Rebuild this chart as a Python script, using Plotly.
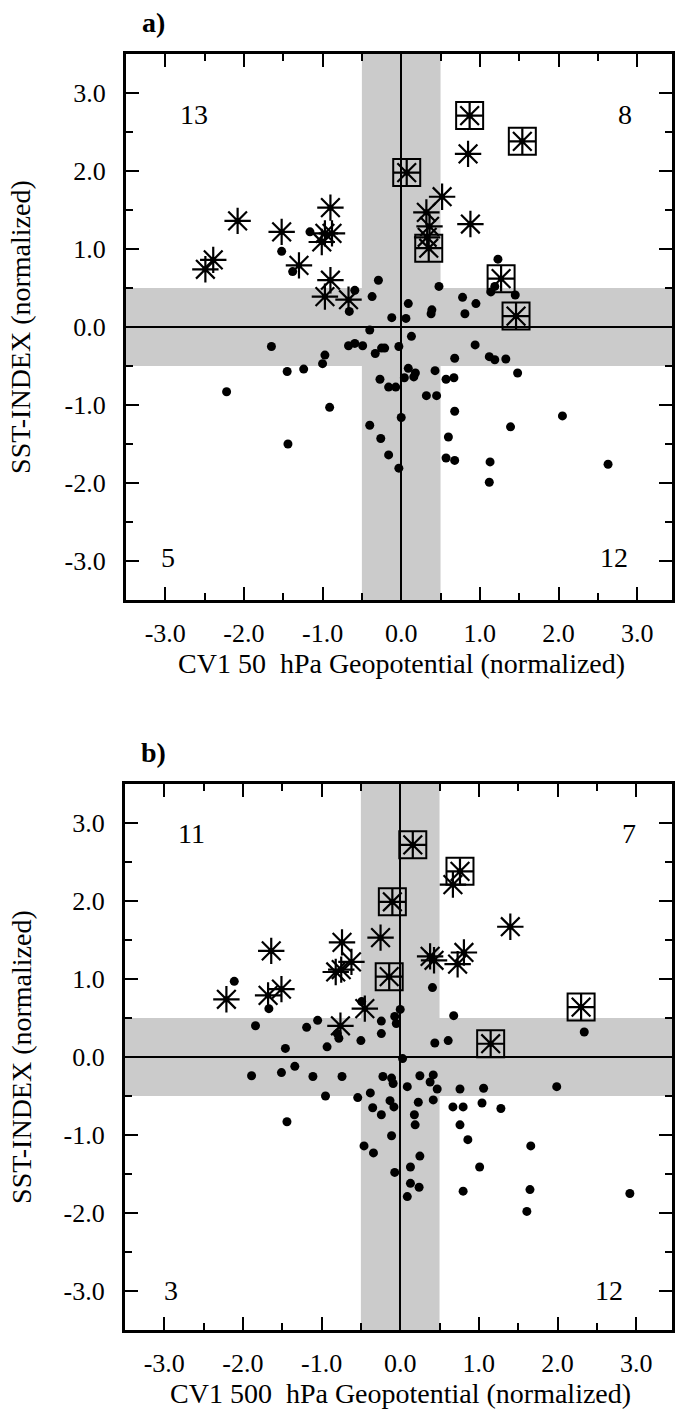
import plotly.graph_objects as go

# ---------------- data ----------------
# Panel a) CV1 50 hPa geopotential vs SST-index
a_dot_x = [-1.16, -1.52, -1.38, -0.59, -0.66, -0.29, -0.37, -0.12, -0.40, -1.65, -0.67, -0.59, -0.49,
           -0.97, -1.00, -0.33, -0.25, -0.21, -0.03, 1.23, 1.19, 1.14, 1.45, 0.48, 0.78, 0.95, 0.81,
           0.39, 0.38, 0.09, 0.06, 0.13, 0.94, 0.68, 1.12, 1.19, 1.33, 1.48, 0.09, 0.18, 0.16, 0.43,
           0.04, -0.27, -0.16, -0.07, 0.57, 0.67, 0.32, 0.45, 0.68, 0.00, 0.60, -0.26, -0.16, -0.03,
           0.57, 0.68, 1.39, 2.05, 1.13, 1.12, 2.63, -1.45, -1.24, -2.22, -0.91, -1.44, -0.40]
a_dot_y = [1.22, 0.97, 0.71, 0.47, 0.20, 0.60, 0.39, 0.12, -0.04, -0.25, -0.24, -0.21, -0.24,
           -0.36, -0.47, -0.34, -0.27, -0.27, -0.25, 0.87, 0.52, 0.45, 0.41, 0.52, 0.38, 0.30, 0.17,
           0.22, 0.17, 0.30, 0.11, -0.12, -0.23, -0.40, -0.38, -0.42, -0.41, -0.59, -0.53, -0.59, -0.64, -0.56,
           -0.65, -0.67, -0.77, -0.77, -0.67, -0.65, -0.88, -0.88, -1.08, -1.16, -1.41, -1.43, -1.64, -1.81,
           -1.68, -1.71, -1.28, -1.14, -1.73, -1.99, -1.76, -0.57, -0.54, -0.83, -1.03, -1.50, -1.26]
a_star_x = [-0.90, -2.08, -1.52, -0.97, -0.88, -1.01, -2.39, -2.49, -1.30, -0.90, -0.97, -0.67,
            0.85, 0.52, 0.32, 0.36, 0.88, 0.33]
a_star_y = [1.53, 1.36, 1.22, 1.20, 1.20, 1.09, 0.86, 0.74, 0.79, 0.60, 0.39, 0.35,
            2.22, 1.67, 1.47, 1.29, 1.32, 1.15]
a_box_x = [0.87, 1.54, 0.07, 0.35, 1.27, 1.46]
a_box_y = [2.71, 2.38, 1.98, 1.01, 0.62, 0.14]
a_counts = ["13", "8", "5", "12"]   # upper-left, upper-right, lower-left, lower-right

# Panel b) CV1 500 hPa geopotential vs SST-index
b_dot_x = [-2.11, -1.67, -0.49, -0.80, -0.78, -1.84, -1.19, -1.05, -1.46, -0.93, -0.50, -0.24, -0.24,
           -0.07, -0.05, 0.00, 0.41, 0.68, 2.34, 0.44, 0.61, 0.03,
           -1.89, -1.51, -1.34, -1.11, -0.74, -0.22, -0.11, -0.09, -0.95, -0.54, -0.38, -0.35, -0.24,
           -0.13, -0.08, -0.11, -0.46, -0.34, -0.07, -1.44,
           0.09, 0.25, 0.42, 0.38, 0.47, 0.76, 1.06, 1.99, 0.23, 0.42, 0.18, 0.19, 0.67, 0.80, 1.04,
           1.28, 0.76, 0.86, 1.66, 1.01, 0.25, 0.13, 0.13, 0.24, 0.09, 0.80, 1.65, 1.61, 2.92]
b_dot_y = [0.97, 0.62, 0.71, 0.30, 0.24, 0.40, 0.38, 0.47, 0.11, 0.13, 0.21, 0.46, 0.30,
           0.52, 0.43, 0.61, 0.89, 0.53, 0.32, 0.18, 0.21, -0.02,
           -0.24, -0.20, -0.12, -0.25, -0.25, -0.25, -0.27, -0.34, -0.50, -0.52, -0.46, -0.65, -0.74,
           -0.56, -0.64, -1.01, -1.14, -1.23, -1.48, -0.83,
           -0.38, -0.24, -0.23, -0.32, -0.41, -0.41, -0.40, -0.38, -0.58, -0.55, -0.74, -0.87, -0.64, -0.64, -0.59,
           -0.66, -0.87, -1.06, -1.14, -1.41, -1.27, -1.41, -1.62, -1.67, -1.79, -1.72, -1.70, -1.98, -1.75]
b_star_x = [-0.25, -0.74, -0.62, -0.82, -0.75, -1.64, -1.51, -1.68, -2.21, -0.45, -0.76,
            0.67, 1.40, 0.81, 0.73, 0.38, 0.43]
b_star_y = [1.53, 1.47, 1.22, 1.09, 1.12, 1.36, 0.87, 0.79, 0.74, 0.62, 0.40,
            2.21, 1.67, 1.34, 1.19, 1.29, 1.24]
b_box_x = [0.16, 0.76, -0.10, -0.14, 2.30, 1.15]
b_box_y = [2.72, 2.38, 1.99, 1.03, 0.64, 0.17]
b_counts = ["11", "7", "3", "12"]

tick_vals = [-3.0, -2.0, -1.0, 0.0, 1.0, 2.0, 3.0]
tick_text = ["-3.0", "-2.0", "-1.0", "0.0", "1.0", "2.0", "3.0"]
minor_vals = [-3.5, -2.5, -1.5, -0.5, 0.5, 1.5, 2.5, 3.5]

x_titles = ["CV1 50  hPa Geopotential (normalized)", "CV1 500  hPa Geopotential (normalized)"]
y_title = "SST-INDEX (normalized)"
panel_labels = ["a)", "b)"]

# ---------------- layout helpers ----------------
W, H = 675, 1410
SERIF = "Liberation Serif, Times New Roman, serif"


def px(x):
    return x / W


def py(y):
    return 1 - y / H


fig = go.Figure()

panels = [
    dict(dx=a_dot_x, dy=a_dot_y, sx=a_star_x, sy=a_star_y, bx=a_box_x, by=a_box_y, counts=a_counts,
         xa="x", ya="y", left=126.5, x0=403.0, top=54, bottom=600),
    dict(dx=b_dot_x, dy=b_dot_y, sx=b_star_x, sy=b_star_y, bx=b_box_x, by=b_box_y, counts=b_counts,
         xa="x2", ya="y2", left=125.5, x0=402.0, top=784, bottom=1330),
]
UNIT = 79.0

for i, p in enumerate(panels):
    xa, ya = p["xa"], p["ya"]
    fig.add_trace(go.Scatter(x=p["dx"], y=p["dy"], mode="markers", xaxis=xa, yaxis=ya,
                             marker=dict(symbol="circle", size=9, color="black",
                                         line=dict(width=0)), showlegend=False))
    # small dark core of the asterisks
    fig.add_trace(go.Scatter(x=p["sx"] + p["bx"], y=p["sy"] + p["by"], mode="markers", xaxis=xa, yaxis=ya,
                             marker=dict(symbol="circle", size=6, color="black",
                                         line=dict(width=0)), showlegend=False))
    fig.add_trace(go.Scatter(x=p["sx"] + p["bx"], y=p["sy"] + p["by"], mode="markers", xaxis=xa, yaxis=ya,
                             marker=dict(symbol="asterisk-open", size=22, color="black",
                                         line=dict(width=2.2, color="black")), showlegend=False))
    fig.add_trace(go.Scatter(x=p["bx"], y=p["by"], mode="markers", xaxis=xa, yaxis=ya,
                             marker=dict(symbol="square-open", size=27, color="black",
                                         line=dict(width=2, color="black")), showlegend=False))

    xref_dom = ("x" if xa == "x" else "x2") + " domain"
    yref_dom = ("y" if ya == "y" else "y2") + " domain"
    # shaded bands
    fig.add_shape(type="rect", xref=xa, yref=yref_dom, x0=-0.5, x1=0.5, y0=0, y1=1,
                  fillcolor="#cbcbcb", line=dict(width=0), layer="below")
    fig.add_shape(type="rect", xref=xref_dom, yref=ya, x0=0, x1=1, y0=-0.5, y1=0.5,
                  fillcolor="#cbcbcb", line=dict(width=0), layer="below")

    xmax = -3.5 + (W - p["left"]) / UNIT
    axis_common = dict(showline=True, linecolor="black", linewidth=3, mirror="allticks",
                       ticks="inside", ticklen=13, tickwidth=2, tickcolor="black",
                       tickmode="array", tickvals=tick_vals, ticktext=tick_text,
                       minor=dict(tickmode="array", tickvals=minor_vals, ticks="inside",
                                  ticklen=7, tickwidth=2, tickcolor="black"),
                       showgrid=False, zeroline=True, zerolinecolor="black", zerolinewidth=1.5,
                       tickfont=dict(family=SERIF, size=26, color="black"), fixedrange=True)
    xkey = "xaxis" if xa == "x" else "xaxis2"
    ykey = "yaxis" if ya == "y" else "yaxis2"
    fig.update_layout(**{
        xkey: dict(axis_common, domain=[px(p["left"]), 1.0], range=[-3.5, xmax], anchor=ya,
                   ticklabelstandoff=8),
        ykey: dict(axis_common, domain=[py(p["bottom"]), py(p["top"])], range=[-3.5, 3.5], anchor=xa,
                   ticklabelstandoff=12),
    })

    # quadrant counts
    qpos = [(-2.63, 2.72), (2.84, 2.72), (-2.96, -2.95), (2.70, -2.95)]
    if i == 1:
        qpos = [(-2.66, 2.86), (2.91, 2.87), (-2.92, -2.99), (2.66, -2.99)]
    for txt, (qx, qy) in zip(p["counts"], qpos):
        fig.add_annotation(x=qx, y=qy, xref=xa, yref=ya, text=txt, showarrow=False,
                           font=dict(family=SERIF, size=28, color="black"))

    # axis titles & panel labels
    mid_y = (p["top"] + p["bottom"]) / 2
    fig.add_annotation(x=px(p["x0"]), y=py(p["bottom"] + 63), xref="paper", yref="paper",
                       text=x_titles[i], showarrow=False, xanchor="center", yanchor="middle",
                       font=dict(family=SERIF, size=28, color="black"))
    fig.add_annotation(x=px(21), y=py(mid_y), xref="paper", yref="paper", text=y_title,
                       textangle=-90, showarrow=False, xanchor="center", yanchor="middle",
                       font=dict(family=SERIF, size=28, color="black"))
    fig.add_annotation(x=px(154), y=py(p["top"] - 32), xref="paper", yref="paper",
                       text="<b>" + panel_labels[i] + "</b>", showarrow=False,
                       xanchor="center", yanchor="middle",
                       font=dict(family=SERIF, size=28, color="black"))

fig.update_layout(width=W, height=H, margin=dict(l=0, r=0, t=0, b=0),
                  paper_bgcolor="white", plot_bgcolor="white", showlegend=False)

fig.write_html("out.html")
